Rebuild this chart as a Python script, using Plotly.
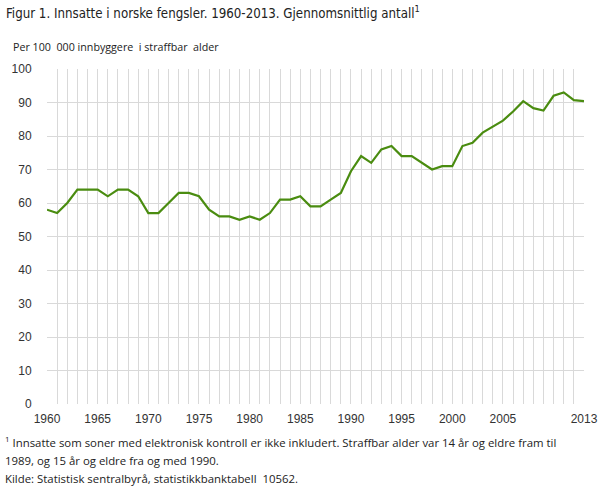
import plotly.graph_objects as go

years = list(range(1960, 2014))
values = [58, 57, 60, 64, 64, 64, 62, 64, 64, 62,
          57, 57, 60, 63, 63, 62, 58, 56, 56, 55,
          56, 55, 57, 61, 61, 62, 59, 59, 61, 63,
          69.5, 74, 72, 76, 77, 74, 74, 72, 70, 71,
          71, 77, 78, 81, 82.8, 84.6, 87.3, 90.4, 88.3, 87.6,
          92, 93, 90.7, 90.4]
tick_years = [1960, 1965, 1970, 1975, 1980, 1985, 1990, 1995, 2000, 2005, 2013]
y_ticks = list(range(0, 101, 10))

title = "Figur 1. Innsatte i norske fengsler. 1960-2013. Gjennomsnittlig antall<sup>1</sup>"
ytitle = "Per 100  000 innbyggere  i straffbar  alder"
notes = ["<sup>1</sup> Innsatte som soner med elektronisk kontroll er ikke inkludert. Straffbar alder var 14 år og eldre fram til",
         "1989, og 15 år og eldre fra og med 1990.",
         "Kilde: Statistisk sentralbyrå, statistikkbanktabell  10562."]

W_FIG, H_FIG = 610, 489
ML, MR, MT, MB = 46, 23, 69, 85

fig = go.Figure()
fig.add_trace(go.Scatter(x=years, y=values, mode="lines",
                         line=dict(color="#4a8c10", width=2.2), hoverinfo="skip"))

tickfont = dict(family="Liberation Sans, Arial", size=12, color="#333333")
fig.update_layout(
    width=W_FIG, height=H_FIG,
    margin=dict(l=ML, r=MR, t=MT, b=MB, pad=0),
    paper_bgcolor="white", plot_bgcolor="white",
    showlegend=False,
    xaxis=dict(range=[1960, 2013], tickmode="array", tickvals=tick_years,
               ticktext=[str(t) for t in tick_years],
               showgrid=True, gridcolor="#d9d9d9", gridwidth=1,
               minor=dict(tickmode="array", tickvals=years, showgrid=True,
                          gridcolor="#d9d9d9", gridwidth=1, ticks=""),
               zeroline=False, tickfont=tickfont, ticks="outside", ticklen=4,
               tickcolor="rgba(0,0,0,0)", fixedrange=True),
    yaxis=dict(range=[0, 100], tickvals=y_ticks, showgrid=True, gridcolor="#d9d9d9",
               gridwidth=1, zeroline=False, tickfont=tickfont, ticks="outside",
               ticklen=12, tickcolor="rgba(0,0,0,0)", fixedrange=True),
)

Hp = H_FIG - MT - MB
Wp = W_FIG - ML - MR
def px(xp): return (xp - ML) / Wp
def py(yp): return (H_FIG - MB - yp) / Hp

fig.add_annotation(text=title, xref="paper", yref="paper", x=px(3), y=py(12),
                   xanchor="left", yanchor="middle", showarrow=False,
                   font=dict(family="Liberation Sans Narrow, DejaVu Sans Condensed, Open Sans",
                             size=13.2, color="#222222"))
fig.add_annotation(text=ytitle, xref="paper", yref="paper", x=px(10), y=py(47),
                   xanchor="left", yanchor="middle", showarrow=False,
                   font=dict(family="Open Sans", size=10.7, color="#222222"))
for n, yy in zip(notes, [441, 460, 478]):
    fig.add_annotation(text=n, xref="paper", yref="paper", x=px(2), y=py(yy),
                       xanchor="left", yanchor="middle", showarrow=False,
                       font=dict(family="Open Sans", size=11.4, color="#222222"))

fig.write_html("out.html", config={"displayModeBar": False},
               post_script="document.body.style.margin='0';")
